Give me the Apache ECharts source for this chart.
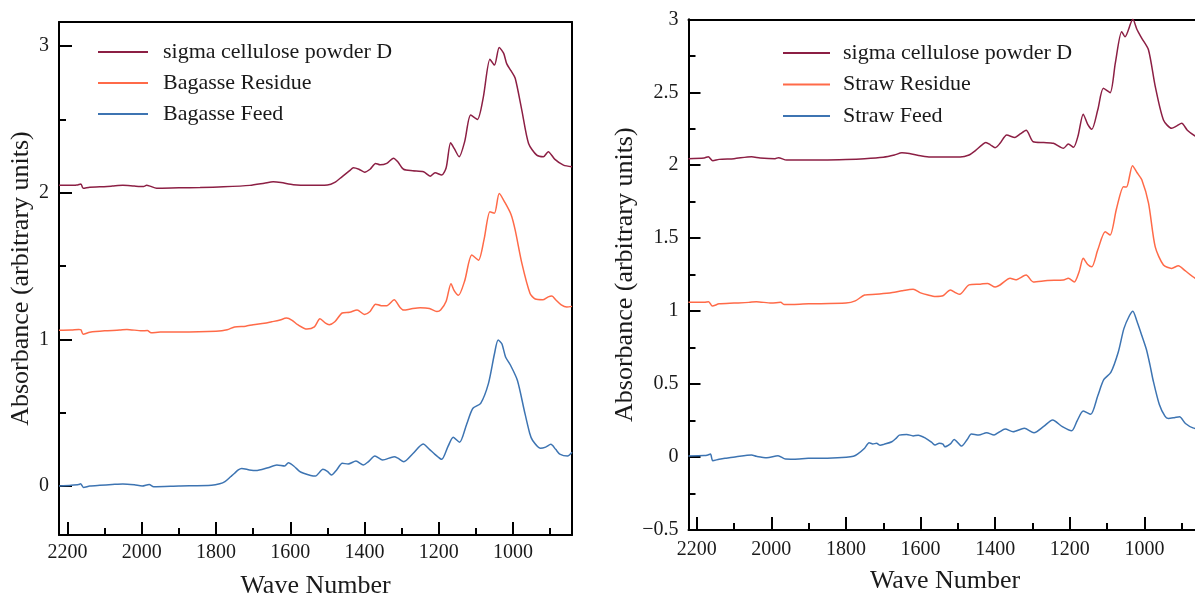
<!DOCTYPE html>
<html><head><meta charset="utf-8">
<script src="https://cdn.jsdelivr.net/npm/echarts@6/dist/echarts.min.js"></script>
<style>html,body{margin:0;padding:0;background:#fff}#c{width:1195px;height:597px}</style>
</head><body><div id="c"></div>
<script>
// ---- Data (wave number, absorbance) ----
const bagSigma = [[2223,2.05],[2200,2.05],[2175,2.052],[2164,2.06],[2158,2.03],[2140,2.038],[2113,2.04],[2080,2.045],[2051,2.05],[2020,2.045],[1995,2.042],[1987,2.05],[1978,2.045],[1960,2.03],[1900,2.033],[1843,2.035],[1780,2.04],[1709,2.05],[1670,2.065],[1646,2.075],[1625,2.07],[1592,2.055],[1550,2.05],[1500,2.052],[1480,2.07],[1460,2.11],[1440,2.15],[1430,2.17],[1415,2.16],[1400,2.14],[1385,2.16],[1370,2.20],[1358,2.19],[1340,2.20],[1322,2.235],[1310,2.21],[1295,2.16],[1270,2.15],[1241,2.143],[1223,2.113],[1210,2.136],[1192,2.12],[1180,2.17],[1168,2.34],[1158,2.30],[1145,2.245],[1130,2.35],[1114,2.53],[1096,2.50],[1080,2.65],[1062,2.91],[1050,2.87],[1037,2.99],[1025,2.95],[1017,2.88],[1005,2.83],[994,2.78],[976,2.56],[958,2.336],[936,2.256],[918,2.245],[905,2.28],[887,2.227],[864,2.188],[841,2.177]];
const bagResidue = [[2223,1.062],[2190,1.063],[2170,1.068],[2164,1.065],[2158,1.035],[2140,1.048],[2100,1.058],[2060,1.063],[2040,1.068],[2000,1.058],[1985,1.06],[1975,1.045],[1950,1.05],[1900,1.05],[1800,1.055],[1770,1.065],[1750,1.085],[1720,1.09],[1700,1.10],[1670,1.11],[1650,1.12],[1630,1.13],[1610,1.145],[1595,1.13],[1580,1.10],[1555,1.07],[1535,1.085],[1520,1.14],[1505,1.11],[1495,1.10],[1480,1.12],[1460,1.18],[1440,1.185],[1420,1.20],[1400,1.17],[1385,1.19],[1370,1.24],[1355,1.23],[1340,1.23],[1320,1.27],[1305,1.22],[1295,1.20],[1270,1.21],[1250,1.215],[1225,1.21],[1205,1.19],[1195,1.20],[1180,1.26],[1167,1.38],[1158,1.33],[1147,1.30],[1130,1.40],[1111,1.575],[1093,1.54],[1078,1.68],[1062,1.87],[1050,1.86],[1037,1.995],[1021,1.93],[1005,1.85],[994,1.745],[976,1.518],[954,1.313],[940,1.275],[920,1.27],[905,1.29],[895,1.295],[885,1.27],[870,1.235],[855,1.22],[841,1.225]];
const bagFeed = [[2223,0.0],[2190,0.005],[2170,0.01],[2165,0.016],[2157,-0.01],[2140,0.0],[2113,0.005],[2080,0.01],[2051,0.014],[2020,0.008],[1999,0.0],[1980,0.011],[1968,-0.005],[1900,0.0],[1812,0.005],[1790,0.015],[1776,0.03],[1760,0.065],[1750,0.087],[1740,0.11],[1731,0.12],[1710,0.11],[1693,0.105],[1660,0.125],[1636,0.143],[1615,0.136],[1605,0.159],[1590,0.135],[1575,0.10],[1564,0.087],[1545,0.072],[1532,0.068],[1512,0.114],[1500,0.10],[1489,0.075],[1475,0.11],[1460,0.155],[1444,0.15],[1423,0.17],[1403,0.143],[1390,0.165],[1372,0.204],[1351,0.177],[1320,0.20],[1310,0.19],[1294,0.166],[1270,0.22],[1242,0.286],[1225,0.25],[1211,0.218],[1192,0.182],[1175,0.27],[1161,0.332],[1144,0.298],[1125,0.42],[1108,0.53],[1087,0.564],[1066,0.70],[1050,0.90],[1040,0.995],[1030,0.97],[1020,0.88],[1007,0.825],[988,0.72],[970,0.52],[955,0.36],[947,0.31],[926,0.257],[912,0.265],[898,0.284],[885,0.25],[874,0.218],[853,0.204],[841,0.23]];

const strawSigma = [[2222,2.045],[2180,2.05],[2169,2.058],[2157,2.03],[2140,2.04],[2100,2.045],[2053,2.058],[2030,2.05],[1990,2.045],[1981,2.052],[1959,2.035],[1900,2.035],[1800,2.04],[1750,2.045],[1700,2.055],[1670,2.07],[1650,2.085],[1630,2.08],[1600,2.065],[1574,2.056],[1494,2.056],[1470,2.07],[1453,2.10],[1435,2.14],[1425,2.155],[1413,2.14],[1400,2.12],[1387,2.15],[1369,2.207],[1347,2.19],[1333,2.214],[1317,2.24],[1298,2.161],[1270,2.155],[1244,2.15],[1217,2.116],[1204,2.145],[1190,2.123],[1178,2.2],[1164,2.35],[1152,2.28],[1141,2.246],[1125,2.38],[1110,2.527],[1092,2.497],[1078,2.70],[1061,2.915],[1052,2.88],[1031,3.0],[1020,2.93],[1007,2.87],[989,2.79],[971,2.54],[949,2.31],[927,2.253],[913,2.27],[900,2.287],[885,2.24],[864,2.2],[847,2.18]];
const strawResidue = [[2222,1.06],[2180,1.06],[2168,1.065],[2158,1.035],[2140,1.05],[2100,1.055],[2060,1.06],[2040,1.065],[2000,1.055],[1975,1.06],[1965,1.045],[1900,1.05],[1800,1.055],[1775,1.07],[1750,1.11],[1720,1.115],[1700,1.12],[1670,1.13],[1650,1.14],[1620,1.15],[1600,1.125],[1580,1.11],[1560,1.10],[1540,1.105],[1520,1.145],[1505,1.125],[1495,1.115],[1470,1.18],[1440,1.185],[1420,1.19],[1400,1.165],[1387,1.179],[1360,1.225],[1345,1.215],[1317,1.247],[1298,1.20],[1260,1.21],[1217,1.213],[1204,1.225],[1188,1.20],[1175,1.27],[1164,1.362],[1152,1.32],[1141,1.304],[1125,1.42],[1105,1.544],[1092,1.522],[1075,1.70],[1056,1.853],[1048,1.85],[1032,1.997],[1020,1.95],[1007,1.90],[989,1.74],[971,1.44],[949,1.316],[927,1.293],[909,1.311],[891,1.277],[864,1.225],[847,1.21]];
const strawFeed = [[2222,0.007],[2180,0.01],[2170,0.014],[2163,0.02],[2157,-0.025],[2140,-0.015],[2124,-0.009],[2094,0.002],[2053,0.014],[2040,0.005],[2012,-0.005],[1982,0.009],[1962,-0.014],[1940,-0.015],[1901,-0.009],[1850,-0.008],[1799,-0.002],[1780,0.005],[1769,0.02],[1750,0.06],[1738,0.098],[1728,0.09],[1718,0.094],[1708,0.08],[1698,0.087],[1677,0.105],[1665,0.13],[1657,0.15],[1637,0.155],[1620,0.145],[1606,0.15],[1586,0.128],[1570,0.10],[1561,0.082],[1550,0.095],[1540,0.089],[1535,0.07],[1520,0.09],[1510,0.121],[1490,0.075],[1475,0.12],[1464,0.158],[1444,0.151],[1423,0.167],[1403,0.151],[1390,0.17],[1373,0.192],[1352,0.173],[1322,0.197],[1296,0.167],[1270,0.21],[1246,0.254],[1220,0.208],[1195,0.18],[1180,0.25],[1164,0.315],[1144,0.293],[1125,0.42],[1109,0.53],[1090,0.58],[1070,0.72],[1055,0.88],[1040,0.97],[1031,1.0],[1020,0.93],[1008,0.84],[995,0.74],[985,0.63],[977,0.53],[960,0.36],[945,0.28],[936,0.265],[920,0.27],[906,0.276],[890,0.23],[870,0.2],[847,0.19]];

const xMajorTicks = [2200,2000,1800,1600,1400,1200,1000];
const xMinorTicks = [2100,1900,1700,1500,1300,1100,900];
const leftYMajor = [0,1,2,3];
const leftYMinor = [0.5,1.5,2.5];
const leftNames = ['sigma cellulose powder D','Bagasse Residue','Bagasse Feed'];
const rightNames = ['sigma cellulose powder D','Straw Residue','Straw Feed'];
const colors = ['#8c1f44','#ff6a48','#3d74b2'];

// ---- Chart ----
const FONT = 'Liberation Serif';
const TXT = '#1a1a1a';
const line = {show:true, onZero:false, lineStyle:{color:'#000', width:2}};
const noLine = {show:false, onZero:false};
const tickStyle = {color:'#000', width:2};
const lbl = {fontFamily:FONT, fontSize:20, color:TXT};
const nameStyle = {fontFamily:FONT, fontSize:26, color:TXT};
const plain = function(v){ return String(v); };

function xMain(grid, min, max, gap, margin) {
  return {gridIndex:grid, type:'value', inverse:true, min:min, max:max, position:'bottom',
    axisLine:line, splitLine:{show:false},
    axisTick:{show:true, inside:true, length:13, customValues:xMajorTicks, lineStyle:tickStyle},
    axisLabel:Object.assign({customValues:xMajorTicks, margin:margin, formatter:plain}, lbl),
    name:'Wave Number', nameLocation:'middle', nameGap:gap, nameTextStyle:nameStyle};
}
function xMinor(grid, min, max) {
  return {gridIndex:grid, type:'value', inverse:true, min:min, max:max, position:'bottom',
    axisLine:noLine, splitLine:{show:false}, axisLabel:{show:false},
    axisTick:{show:true, inside:true, length:7, customValues:xMinorTicks, lineStyle:tickStyle}};
}
function xTop(grid, min, max) {
  return {gridIndex:grid, type:'value', inverse:true, min:min, max:max, position:'top',
    axisLine:line, splitLine:{show:false}, axisLabel:{show:false}, axisTick:{show:false}};
}

const option = {
  animation:false,
  backgroundColor:'#fff',
  grid:[
    {left:59, top:22, width:513, height:513, outerBoundsMode:'none', containLabel:false},
    {left:688.5, top:19.3, width:513, height:510.7, outerBoundsMode:'none', containLabel:false}
  ],
  xAxis:[
    xMain(0, 841, 2223, 38, 8),
    xMinor(0, 841, 2223),
    xTop(0, 841, 2223),
    xMain(1, 847, 2222, 38, 10),
    xMinor(1, 847, 2222),
    xTop(1, 847, 2222)
  ],
  yAxis:[
    {gridIndex:0, type:'value', min:-0.334, max:3.164, position:'left',
      axisLine:line, splitLine:{show:false},
      axisTick:{show:true, inside:true, length:13, customValues:leftYMajor, lineStyle:tickStyle},
      axisLabel:Object.assign({customValues:leftYMajor, margin:10, formatter:plain}, lbl),
      name:'Absorbance (arbitrary units)', nameLocation:'middle', nameGap:25, nameTextStyle:nameStyle},
    {gridIndex:0, type:'value', min:-0.334, max:3.164, position:'left',
      axisLine:noLine, splitLine:{show:false}, axisLabel:{show:false},
      axisTick:{show:true, inside:true, length:7, customValues:leftYMinor, lineStyle:tickStyle}},
    {gridIndex:0, type:'value', min:-0.334, max:3.164, position:'right',
      axisLine:line, splitLine:{show:false}, axisLabel:{show:false}, axisTick:{show:false}},
    {gridIndex:1, type:'value', min:-0.5, max:3, interval:0.5, position:'left',
      axisLine:line, splitLine:{show:false},
      axisTick:{show:true, inside:true, length:12, lineStyle:tickStyle},
      minorTick:{show:true, splitNumber:2, length:7, lineStyle:tickStyle},
      axisLabel:Object.assign({margin:10, formatter:function(v){return v<0?'\u2212'+Math.abs(v):String(v);}}, lbl),
      name:'Absorbance (arbitrary units)', nameLocation:'middle', nameGap:40, nameTextStyle:nameStyle},
    {gridIndex:1, type:'value', min:-0.5, max:3, position:'right',
      axisLine:line, splitLine:{show:false}, axisLabel:{show:false}, axisTick:{show:false}}
  ],
  legend:[
    {data:leftNames, orient:'vertical', left:93, top:36, itemWidth:50, itemHeight:2, itemGap:9, icon:'rect',
      selectedMode:false,
      textStyle:{fontFamily:FONT, fontSize:22, color:TXT, lineHeight:22, padding:[0,0,0,10]}},
    {data:rightNames, orient:'vertical', left:778, top:37, itemWidth:47, itemHeight:2, itemGap:9.5, icon:'rect',
      selectedMode:false,
      textStyle:{fontFamily:FONT, fontSize:22, color:TXT, lineHeight:22, padding:[0,0,0,8]}}
  ],
  series:[]
};

const leftData = [bagSigma, bagResidue, bagFeed];
const rightData = [strawSigma, strawResidue, strawFeed];
leftData.forEach(function(d, i){
  option.series.push({type:'line', name:leftNames[i], xAxisIndex:0, yAxisIndex:0, data:d,
    color:colors[i], symbol:'none', showSymbol:false, smooth:0.25, clip:true,
    lineStyle:{width:1.5, color:colors[i]}});
});
rightData.forEach(function(d, i){
  option.series.push({type:'line', name:rightNames[i], xAxisIndex:3, yAxisIndex:3, data:d,
    color:colors[i], symbol:'none', showSymbol:false, smooth:0.25, clip:true,
    lineStyle:{width:1.5, color:colors[i]}});
});

const chart = echarts.init(document.getElementById('c'), null, {renderer:'canvas'});
chart.setOption(option);
</script>
</body></html>
